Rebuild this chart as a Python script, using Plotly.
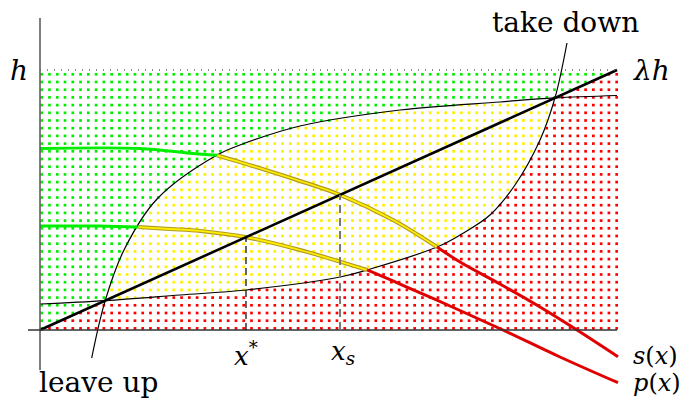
import numpy as np
import plotly.graph_objects as go

# Horizon h = 1; the line λh is y = x and reaches h at the right edge (x = 1).
lam_x = [0.0, 1.0]
lam_y = [0.0, 1.0]

# "leave up" boundary
leave_x = [0.0896, 0.113, 0.1456, 0.2028, 0.3068, 0.3466, 0.4506, 0.6239, 0.7972, 0.8925, 1.0]
leave_y = [-0.1077, 0.113, 0.3077, 0.5038, 0.6731, 0.7115, 0.7846, 0.8462, 0.877, 0.8925, 0.9019]

# "take down" boundary
take_x = [0.0, 0.113, 0.2426, 0.357, 0.52, 0.5667, 0.688, 0.7279, 0.7799, 0.8232, 0.8666, 0.8925, 0.9133]
take_y = [0.1, 0.113, 0.1346, 0.1538, 0.2038, 0.2308, 0.3192, 0.3654, 0.4423, 0.5577, 0.7308, 0.8925, 1.1038]

# s(x)
s_x = [0.0, 0.1733, 0.26, 0.3068, 0.3466, 0.4454, 0.52, 0.6118, 0.688, 0.7279, 0.7972, 0.8666, 0.9307, 1.0017]
s_y = [0.698, 0.698, 0.68, 0.672, 0.646, 0.577, 0.52, 0.423, 0.3192, 0.2615, 0.1769, 0.0885, 0.0, -0.1027]
s_breaks = [0.3068, 0.688]

# p(x)
p_x = [0.0, 0.104, 0.171, 0.2253, 0.2773, 0.357, 0.4506, 0.5667, 0.6239, 0.7106, 0.8024, 0.9012, 1.0017]
p_y = [0.4, 0.4, 0.396, 0.3885, 0.381, 0.357, 0.3077, 0.2308, 0.1769, 0.0923, 0.0, -0.1038, -0.2027]
p_breaks = [0.171, 0.5667]

x_star = 0.357
x_s = 0.52

GREEN = "#00ee00"
YELLOW = "#ffee00"
RED = "#ff0000"

# pixel frame: axes origin at (40, 330), unit x = 577 px, unit y = 260 px
W, H = 691, 400
X0, Y0, UX, UY = 40, 330, 577, 260


def px_x(p):
    return (p - X0) / UX


def px_y(p):
    return (Y0 - p) / UY


fig = go.Figure()

# dotted fill: one dot per grid cell, coloured by region
gx = (41.7 + 7.77 * np.arange(75) - X0) / UX
gy = (Y0 - (328.4 - 7.7 * np.arange(34))) / UY
GX, GY = np.meshgrid(gx, gy)
GX, GY = GX.ravel(), GY.ravel()
Lb = np.interp(GX, leave_x, leave_y)
Tb = np.interp(GX, take_x, take_y)
green = (GY >= GX) & (GY >= Lb)
red = (GY < GX) & (GY < Tb)
yellow = ~(green | red)
for mask, col in [(green, GREEN), (yellow, YELLOW), (red, RED)]:
    fig.add_trace(go.Scatter(x=GX[mask], y=GY[mask], mode="markers",
                             marker=dict(size=2.7, color=col, symbol="square"),
                             hoverinfo="skip"))

# axes
fig.add_shape(type="line", x0=0, x1=0, y0=px_y(370), y1=px_y(18),
              line=dict(color="#555555", width=1.5))
fig.add_shape(type="line", x0=px_x(28), x1=1.0, y0=0, y1=0,
              line=dict(color="#333333", width=1.5))
# horizon h
fig.add_shape(type="line", x0=0, x1=1.0, y0=1.0, y1=1.0,
              line=dict(color="#666666", width=1.3, dash="1px,6px"))

# boundaries
for bx, by in [(leave_x, leave_y), (take_x, take_y)]:
    fig.add_trace(go.Scatter(x=bx, y=by, mode="lines",
                             line=dict(color="black", width=1.2, shape="spline"),
                             hoverinfo="skip"))


def segments(xs, ys, breaks):
    xs = np.asarray(xs)
    ys = np.asarray(ys)
    edges = [xs[0]] + list(breaks) + [xs[-1]]
    out = []
    for a, b in zip(edges[:-1], edges[1:]):
        m = (xs >= a - 1e-9) & (xs <= b + 1e-9)
        out.append((xs[m], ys[m]))
    return out


for xs, ys, br in [(s_x, s_y, s_breaks), (p_x, p_y, p_breaks)]:
    (gx_, gy_), (yx_, yy_), (rx_, ry_) = segments(xs, ys, br)
    fig.add_trace(go.Scatter(x=gx_, y=gy_, mode="lines",
                             line=dict(color=GREEN, width=3, shape="spline"), hoverinfo="skip"))
    fig.add_trace(go.Scatter(x=yx_, y=yy_, mode="lines",
                             line=dict(color="#b09a20", width=4, shape="spline"), hoverinfo="skip"))
    fig.add_trace(go.Scatter(x=yx_, y=yy_, mode="lines",
                             line=dict(color=YELLOW, width=1.8, shape="spline"), hoverinfo="skip"))
    fig.add_trace(go.Scatter(x=rx_, y=ry_, mode="lines",
                             line=dict(color="#e00000", width=3, shape="spline"), hoverinfo="skip"))

# λh
fig.add_trace(go.Scatter(x=lam_x, y=lam_y, mode="lines",
                         line=dict(color="black", width=2.6), hoverinfo="skip"))

# drop lines to x* and x_s
fig.add_shape(type="line", x0=x_star, x1=x_star, y0=0, y1=x_star,
              line=dict(color="black", width=1.2, dash="7px,4px"))
fig.add_shape(type="line", x0=x_s, x1=x_s, y0=0, y1=x_s,
              line=dict(color="#777777", width=2, dash="8px,5px"))

FONT = "DejaVu Serif"


def label(text, px, py, size=28, xanchor="center"):
    fig.add_annotation(x=px_x(px), y=px_y(py), text=text, showarrow=False,
                       xanchor=xanchor, yanchor="middle",
                       font=dict(family=FONT, size=size, color="black"))


label("<i>h</i>", 19, 70)
label("<i>λh</i>", 631, 70, xanchor="left")
label("take down", 565, 22)
label("leave up", 98, 382)
label("<i>x</i><sup>*</sup>", 246, 354, size=26)
label("<i>x</i><sub><i>s</i></sub>", 343, 352, size=26)
label("<i>s</i>(<i>x</i>)", 631, 356, size=24, xanchor="left")
label("<i>p</i>(<i>x</i>)", 631, 383, size=24, xanchor="left")

fig.update_layout(
    width=W, height=H, margin=dict(l=0, r=0, t=0, b=0),
    paper_bgcolor="white", plot_bgcolor="white", showlegend=False,
    xaxis=dict(range=[px_x(0), px_x(W)], visible=False, fixedrange=True),
    yaxis=dict(range=[px_y(H), px_y(0)], visible=False, fixedrange=True),
)

fig.write_html("out.html")
